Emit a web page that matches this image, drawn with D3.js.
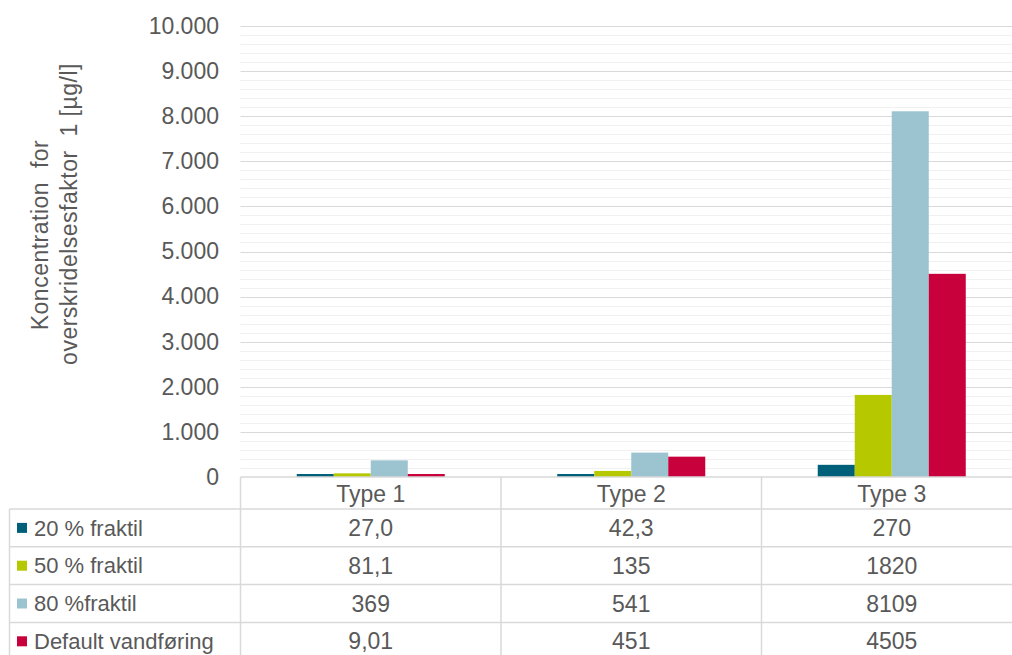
<!DOCTYPE html>
<html>
<head>
<meta charset="utf-8">
<script src="https://cdn.jsdelivr.net/npm/d3@7"></script>
<style>
  html, body { margin: 0; padding: 0; background: #fff; overflow: hidden; }
  svg { display: block; font-family: "Liberation Sans", Arial, sans-serif; }
</style>
</head>
<body>
<svg id="chart" width="1012" height="655"></svg>
<script>
(function () {
  'use strict';

  // ── Data ──────────────────────────────────────────────────────────────────
  var categories = ['Type 1', 'Type 2', 'Type 3'];
  var seriesNames = ['20 % fraktil', '50 % fraktil', '80 %fraktil', 'Default vandføring'];
  var seriesColors = ['#00607a', '#b5c800', '#9bc3d0', '#c8003c'];
  var frac20 = [27.0, 42.3, 270];
  var frac50 = [81.1, 135, 1820];
  var frac80 = [369, 541, 8109];
  var defaultFlow = [9.01, 451, 4505];
  var seriesValues = [frac20, frac50, frac80, defaultFlow];
  var yTicks = [0, 1000, 2000, 3000, 4000, 5000, 6000, 7000, 8000, 9000, 10000];
  var yTitle = ['Koncentration  for', 'overskridelsesfaktor  1 [µg/l]'];

  // ── Layout ────────────────────────────────────────────────────────────────
  var plotLeft = 240.5, plotRight = 1022, plotTop = 26, plotBottom = 477;
  var tableLeft = 9.5, headerH = 32, rowH = 37.8;
  var textColor = '#595959', gridMajor = '#d9d9d9', gridMinor = '#f0f0f0';
  var titlePos = [[48, 235], [77, 214]];   // baseline x, centre y per line

  var loc = d3.formatLocale({ decimal: ',', thousands: '.', grouping: [3], currency: ['', ''] });
  var fmtTick = loc.format(',.0f');
  function fmtCell(v) { return v >= 1000 ? loc.format('.0f')(v) : loc.format('.3r')(v); }

  var svg = d3.select('#chart');

  var x = d3.scaleBand().domain(categories).range([plotLeft, plotRight]);
  var xs = d3.scaleBand().domain(d3.range(seriesNames.length))
    .range([0, x.bandwidth()]).paddingOuter(1.52);
  var y = d3.scaleLinear().domain([0, 10000]).range([plotBottom, plotTop]);

  // ── Gridlines ─────────────────────────────────────────────────────────────
  var minor = d3.range(0, 10001, 200).filter(function (v) { return v % 1000 !== 0; });
  svg.append('g').selectAll('line').data(minor).join('line')
    .attr('x1', plotLeft).attr('x2', plotRight)
    .attr('y1', function (d) { return Math.round(y(d)) + 0.5; })
    .attr('y2', function (d) { return Math.round(y(d)) + 0.5; })
    .attr('stroke', gridMinor).attr('stroke-width', 1);

  svg.append('g').selectAll('line').data(yTicks.slice(1)).join('line')
    .attr('x1', plotLeft).attr('x2', plotRight)
    .attr('y1', function (d) { return Math.round(y(d)) + 0.5; })
    .attr('y2', function (d) { return Math.round(y(d)) + 0.5; })
    .attr('stroke', gridMajor).attr('stroke-width', 1.2);

  // ── Y axis ────────────────────────────────────────────────────────────────
  var yAxis = svg.append('g').attr('transform', 'translate(' + 219 + ',0)')
    .call(d3.axisLeft(y).tickValues(yTicks).tickFormat(fmtTick).tickSize(0).tickPadding(0));
  yAxis.select('.domain').remove();
  yAxis.selectAll('text').attr('fill', textColor).style('font-size', '23px')
    .style('font-family', '"Liberation Sans", Arial, sans-serif');

  svg.append('g').selectAll('text').data(yTitle).join('text')
    .attr('transform', function (d, i) { return 'translate(' + titlePos[i][0] + ',' + titlePos[i][1] + ') rotate(-90)'; })
    .attr('text-anchor', 'middle').attr('fill', textColor)
    .attr('xml:space', 'preserve').style('white-space', 'pre')
    .style('font-size', '23px').style('letter-spacing', '0.5px')
    .text(function (d) { return d; });

  // ── Bars ──────────────────────────────────────────────────────────────────
  var groups = svg.append('g').selectAll('g').data(categories).join('g')
    .attr('transform', function (c) { return 'translate(' + x(c) + ',0)'; });
  groups.selectAll('rect')
    .data(function (c, ci) { return seriesValues.map(function (s, si) { return { si: si, v: s[ci] }; }); })
    .join('rect')
    .attr('x', function (d) { return xs(d.si); })
    .attr('width', xs.bandwidth())
    .attr('y', function (d) { return Math.min(y(d.v), plotBottom - 3); })
    .attr('height', function (d) { return Math.max(plotBottom - y(d.v), 3); })
    .attr('fill', function (d) { return seriesColors[d.si]; });

  // ── Data table ────────────────────────────────────────────────────────────
  var tableBottom = plotBottom + headerH + rowH * seriesNames.length;
  var border = svg.append('g').attr('stroke', gridMajor).attr('stroke-width', 1.5);
  border.append('line').attr('x1', plotLeft).attr('x2', plotRight)
    .attr('y1', plotBottom).attr('y2', plotBottom);
  border.selectAll('.row').data(d3.range(seriesNames.length + 1)).join('line')
    .attr('class', 'row')
    .attr('x1', tableLeft).attr('x2', plotRight)
    .attr('y1', function (i) { return plotBottom + headerH + i * rowH; })
    .attr('y2', function (i) { return plotBottom + headerH + i * rowH; });
  border.append('line').attr('x1', tableLeft).attr('x2', tableLeft)
    .attr('y1', plotBottom + headerH).attr('y2', tableBottom);
  border.selectAll('.col').data(categories).join('line')
    .attr('class', 'col')
    .attr('x1', function (c) { return x(c); }).attr('x2', function (c) { return x(c); })
    .attr('y1', plotBottom).attr('y2', tableBottom);

  svg.append('g').selectAll('text').data(categories).join('text')
    .attr('x', function (c) { return x(c) + x.bandwidth() / 2; })
    .attr('y', plotBottom + headerH / 2 + 1)
    .attr('dy', '0.35em').attr('text-anchor', 'middle')
    .attr('fill', textColor).style('font-size', '23px')
    .text(function (c) { return c; });

  var rows = svg.append('g').selectAll('g').data(seriesNames).join('g')
    .attr('transform', function (d, i) { return 'translate(0,' + (plotBottom + headerH + i * rowH + rowH / 2) + ')'; });
  rows.append('rect')
    .attr('x', 17).attr('y', -5).attr('width', 10).attr('height', 10)
    .attr('fill', function (d, i) { return seriesColors[i]; });
  rows.append('text')
    .attr('x', 34).attr('dy', '0.35em')
    .attr('fill', textColor).style('font-size', '22px')
    .text(function (d) { return d; });
  rows.each(function (d, i) {
    d3.select(this).selectAll('.cell').data(seriesValues[i]).join('text')
      .attr('class', 'cell')
      .attr('x', function (v, ci) { return x(categories[ci]) + x.bandwidth() / 2; })
      .attr('dy', '0.35em').attr('text-anchor', 'middle')
      .attr('fill', textColor).style('font-size', '23px')
      .text(function (v) { return fmtCell(v); });
  });
})();
</script>
</body>
</html>
